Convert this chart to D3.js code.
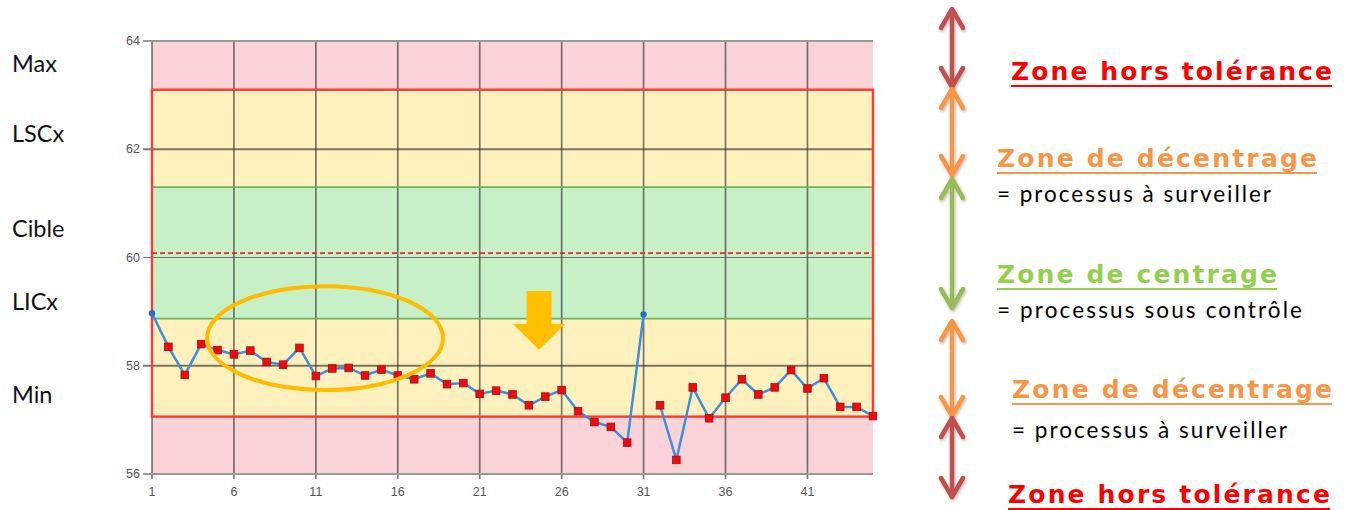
<!DOCTYPE html>
<html><head><meta charset="utf-8">
<script src="https://cdn.jsdelivr.net/npm/d3@7"></script>
<style>
html,body{margin:0;padding:0;background:#fff;}
svg{display:block;}
</style></head>
<body>
<svg id="chart" width="1349" height="510"></svg>
<script>
// ---- data ----
const sampleIndex = d3.range(1, 46);
const measures = [58.97, 58.35, 57.83, 58.40, 58.29, 58.21, 58.28, 58.07, 58.02, 58.33,
                  57.81, 57.95, 57.96, 57.82, 57.93, 57.82, 57.75, 57.86, 57.66, 57.68,
                  57.48, 57.54, 57.47, 57.27, 57.43, 57.55, 57.16, 56.96, 56.87, 56.58,
                  58.95, 57.27, 56.26, 57.60, 57.03, 57.41, 57.75, 57.47, 57.60, 57.92,
                  57.58, 57.77, 57.24, 57.24, 57.07];
const segmentStarts = [1, 32];
const segmentEnds = [31, 45];
const limitNames = ["Min", "LICx", "Cible", "LSCx", "Max"];
const limitValues = [57.06, 58.87, 60.08, 61.30, 63.10];
const yTicks = [56, 58, 60, 62, 64];
const xTicks = [1, 6, 11, 16, 21, 26, 31, 36, 41];
const leftLabels = ["Max", "LSCx", "Cible", "LICx", "Min"];
const zoneTitles = ["Zone hors tolérance", "Zone de décentrage", "Zone de centrage", "Zone de décentrage", "Zone hors tolérance"];
const zoneNotes = ["", "= processus à surveiller", "= processus sous contrôle", "= processus à surveiller", ""];

// ---- layout ----
const svg = d3.select("#chart");
const x = d3.scaleLinear().domain([1, 45]).range([152, 873]);
const y = d3.scaleLinear().domain([56, 64]).range([474, 41]);
const [LMin, LICx, Cible, LSCx, LMax] = limitValues;

const g = svg.append("g");
// backgrounds
g.append("rect").attr("x", x(1)).attr("width", x(45) - x(1))
  .attr("y", y(64)).attr("height", y(56) - y(64)).attr("fill", "#fad3d8");
g.append("rect").attr("x", x(1)).attr("width", x(45) - x(1))
  .attr("y", y(LMax)).attr("height", y(LMin) - y(LMax)).attr("fill", "#fff1be");
g.append("rect").attr("x", x(1)).attr("width", x(45) - x(1))
  .attr("y", y(LSCx)).attr("height", y(LICx) - y(LSCx)).attr("fill", "#c7f0c7");

// grid
g.selectAll(".vg").data(xTicks).join("line")
  .attr("x1", d => x(d)).attr("x2", d => x(d))
  .attr("y1", y(64)).attr("y2", y(56) + 5)
  .attr("stroke", "#333").attr("stroke-opacity", 0.65).attr("stroke-width", 1.7);
g.selectAll(".hg").data(yTicks).join("line")
  .attr("x1", x(1) - 9).attr("x2", x(45))
  .attr("y1", d => y(d)).attr("y2", d => y(d))
  .attr("stroke", d => (d === 56 || d === 64) ? "#999" : "#333")
  .attr("stroke-opacity", d => (d === 56 || d === 64) ? 1 : 0.65)
  .attr("stroke-width", d => d === 60 ? 1.2 : 1.9);

// green band borders
[LICx, LSCx].forEach(v => {
  g.append("line").attr("x1", x(1)).attr("x2", x(45)).attr("y1", y(v)).attr("y2", y(v))
    .attr("stroke", "#6db35f").attr("stroke-width", 1.6);
});
// target dashed
g.append("line").attr("x1", x(1)).attr("x2", x(45)).attr("y1", y(Cible)).attr("y2", y(Cible))
  .attr("stroke", "#e8262b").attr("stroke-width", 1.8).attr("stroke-dasharray", "5,3");
// tolerance box
g.append("rect").attr("x", x(1)).attr("width", x(45) - x(1))
  .attr("y", y(LMax)).attr("height", y(LMin) - y(LMax))
  .attr("fill", "none").attr("stroke", "#ff3a33").attr("stroke-width", 2.4);

// tick labels
g.selectAll(".yl").data(yTicks).join("text")
  .attr("x", 140).attr("y", d => y(d) + 4).attr("text-anchor", "end")
  .attr("font-family", "Liberation Sans, Arial, sans-serif").attr("font-size", 12.5)
  .attr("fill", "#555").text(d => d);
g.selectAll(".xl").data(xTicks).join("text")
  .attr("x", d => x(d)).attr("y", 496).attr("text-anchor", "middle")
  .attr("font-family", "Liberation Sans, Arial, sans-serif").attr("font-size", 12.5)
  .attr("fill", "#555").text(d => d);

// series line
const pts = sampleIndex.map((i, k) => ({i, v: measures[k]}));
const line = d3.line().x(d => x(d.i)).y(d => y(d.v));
segmentStarts.forEach((s, k) => {
  g.append("path").datum(pts.filter(p => p.i >= s && p.i <= segmentEnds[k]))
    .attr("d", line).attr("fill", "none").attr("stroke", "#3d8fdc").attr("stroke-width", 2.5);
});
// markers
const inControl = d => d.v >= LICx && d.v <= LSCx;
g.selectAll(".mk").data(pts.filter(d => !inControl(d))).join("rect")
  .attr("x", d => x(d.i) - 3.8).attr("y", d => y(d.v) - 3.8)
  .attr("width", 7.6).attr("height", 7.6)
  .attr("fill", "#ee0a0f").attr("stroke", "#a50d0d").attr("stroke-width", 0.8);
g.selectAll(".mb").data(pts.filter(inControl)).join("circle")
  .attr("cx", d => x(d.i)).attr("cy", d => y(d.v)).attr("r", 3.2)
  .attr("fill", "#2c6fc2");

// annotation ellipse (data coords)
const ell = {cx: 11.56, cy: 58.51, rx: 7.2, ry: 0.96};
g.append("ellipse").attr("cx", x(ell.cx)).attr("cy", y(ell.cy))
  .attr("rx", x(1 + ell.rx) - x(1)).attr("ry", y(56) - y(56 + ell.ry))
  .attr("fill", "none").attr("stroke", "#ffbb00").attr("stroke-width", 4);

// down arrow
const ax = x(24.62);
g.append("path")
  .attr("d", `M${ax-12.5},291 L${ax+12.5},291 L${ax+12.5},324 L${ax+26},324 L${ax},350 L${ax-26},324 L${ax-12.5},324 Z`)
  .attr("fill", "#ffc000");

// left labels
const leftY = [72, 142, 237, 310, 403];
svg.selectAll(".ll").data(leftLabels).join("text")
  .attr("x", 12).attr("y", (d, i) => leftY[i])
  .attr("font-family", "Lato, sans-serif").attr("font-size", 23.5)
  .attr("fill", "#111").text(d => d);

// right arrows
const defs = svg.append("defs");
const f = defs.append("filter").attr("id", "sh").attr("x", "-50%").attr("y", "-20%").attr("width", "200%").attr("height", "140%");
f.append("feDropShadow").attr("dx", 1).attr("dy", 1.5).attr("stdDeviation", 1.5)
  .attr("flood-color", "#000").attr("flood-opacity", 0.3);
const arrowTop = [8, 88, 178, 320, 417];
const arrowBot = [88, 176, 309, 417, 498];
const arrowColor = ["#c0504d", "#f79646", "#9bbb59", "#f79646", "#c0504d"];
const axr = 952;
arrowTop.forEach((t, i) => {
  const b = arrowBot[i];
  const ga = svg.append("g").attr("filter", "url(#sh)")
    .attr("stroke", arrowColor[i]).attr("stroke-width", 4.5)
    .attr("stroke-linecap", "round").attr("stroke-linejoin", "round").attr("fill", "none");
  ga.append("line").attr("x1", axr).attr("x2", axr).attr("y1", t + 2).attr("y2", b - 2);
  ga.append("path").attr("d", `M${axr-11},${t+20} L${axr},${t+1} L${axr+11},${t+20}`);
  ga.append("path").attr("d", `M${axr-11},${b-20} L${axr},${b-1} L${axr+11},${b-20}`);
});

// right texts
const titleX = [1011, 997, 997, 1012, 1008];
const titleY = [80, 167, 283, 398, 503];
const titleW = [321, 320, 280, 320, 322];
const titleColor = ["#ff0000", "#f79646", "#92d050", "#f79646", "#ff0000"];
const noteY = [0, 202, 318, 438, 0];
const noteW = [0, 274, 305, 275, 0];
zoneTitles.forEach((t, i) => {
  svg.append("text").attr("x", titleX[i]).attr("y", titleY[i])
    .attr("font-family", "DejaVu Sans, sans-serif").attr("font-weight", "bold")
    .attr("font-size", 25).attr("fill", titleColor[i])
    .attr("textLength", titleW[i]).attr("lengthAdjust", "spacing").text(t);
  svg.append("line").attr("x1", titleX[i]).attr("x2", titleX[i] + titleW[i])
    .attr("y1", titleY[i] + 6).attr("y2", titleY[i] + 6)
    .attr("stroke", titleColor[i]).attr("stroke-width", 2);
  if (zoneNotes[i]) {
    svg.append("text").attr("x", titleX[i]).attr("y", noteY[i])
      .attr("font-family", "Lato, sans-serif").attr("font-size", 22.5)
      .attr("fill", "#000").attr("textLength", noteW[i]).attr("lengthAdjust", "spacing")
      .text(zoneNotes[i]);
  }
});
</script>
</body></html>
